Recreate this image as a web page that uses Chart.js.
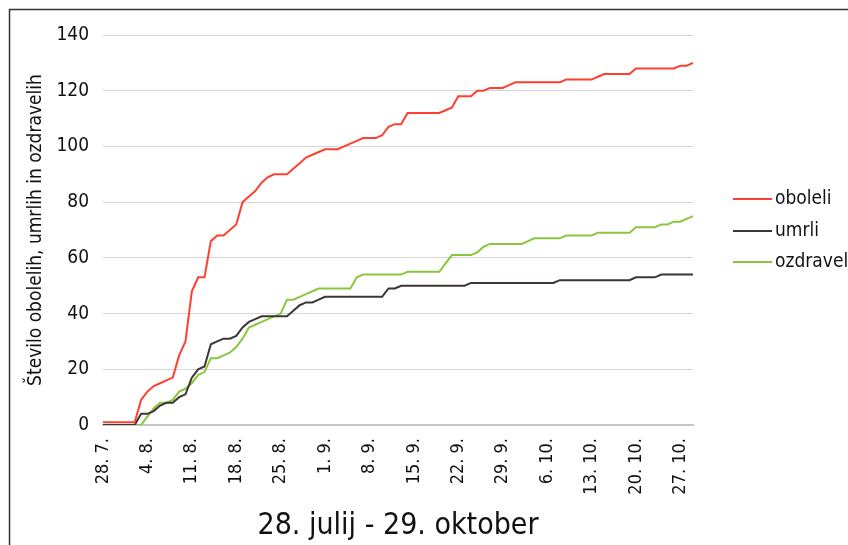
<!DOCTYPE html>
<html>
<head>
<meta charset="utf-8">
<script src="https://cdn.jsdelivr.net/npm/chart.js@4"></script>
<style>
  html, body { margin: 0; padding: 0; background: #fff; }
  #wrap { width: 848px; height: 545px; position: relative; }
</style>
</head>
<body>
<div id="wrap"><canvas id="chart" width="848" height="545"></canvas></div>
<script>
// ── Data: daily cumulative counts, 28. 7. – 29. 10. ──
const tickLabels = ['28. 7.', '4. 8.', '11. 8.', '18. 8.', '25. 8.', '1. 9.', '8. 9.',
  '15. 9.', '22. 9.', '29. 9.', '6. 10.', '13. 10.', '20. 10.', '27. 10.'];

const oboleli = [
  1, 1, 1, 1, 1, 1, 9, 12, 14, 15,
  16, 17, 25, 30, 48, 53, 53, 66, 68, 68,
  70, 72, 80, 82, 84, 87, 89, 90, 90, 90,
  92, 94, 96, 97, 98, 99, 99, 99, 100, 101,
  102, 103, 103, 103, 104, 107, 108, 108, 112, 112,
  112, 112, 112, 112, 113, 114, 118, 118, 118, 120,
  120, 121, 121, 121, 122, 123, 123, 123, 123, 123,
  123, 123, 123, 124, 124, 124, 124, 124, 125, 126,
  126, 126, 126, 126, 128, 128, 128, 128, 128, 128,
  128, 129, 129, 130
];

const umrli = [
  0, 0, 0, 0, 0, 0, 4, 4, 5, 7,
  8, 8, 10, 11, 17, 20, 21, 29, 30, 31,
  31, 32, 35, 37, 38, 39, 39, 39, 39, 39,
  41, 43, 44, 44, 45, 46, 46, 46, 46, 46,
  46, 46, 46, 46, 46, 49, 49, 50, 50, 50,
  50, 50, 50, 50, 50, 50, 50, 50, 51, 51,
  51, 51, 51, 51, 51, 51, 51, 51, 51, 51,
  51, 51, 52, 52, 52, 52, 52, 52, 52, 52,
  52, 52, 52, 52, 53, 53, 53, 53, 54, 54,
  54, 54, 54, 54
];

const ozdraveli = [
  0, 0, 0, 0, 0, 0, 0, 3, 6, 8,
  8, 9, 12, 13, 15, 18, 19, 24, 24, 25,
  26, 28, 31, 35, 36, 37, 38, 39, 40, 45,
  45, 46, 47, 48, 49, 49, 49, 49, 49, 49,
  53, 54, 54, 54, 54, 54, 54, 54, 55, 55,
  55, 55, 55, 55, 58, 61, 61, 61, 61, 62,
  64, 65, 65, 65, 65, 65, 65, 66, 67, 67,
  67, 67, 67, 68, 68, 68, 68, 68, 69, 69,
  69, 69, 69, 69, 71, 71, 71, 71, 72, 72,
  73, 73, 74, 75
];

const FONT = "'DejaVu Sans Condensed', 'DejaVu Sans', sans-serif";

const toPoints = arr => arr.map((v, i) => ({ x: i, y: v }));

function makeSet(label, data, color) {
  return {
    label: label,
    data: toPoints(data),
    borderColor: color,
    backgroundColor: color,
    borderWidth: 2,
    pointRadius: 0,
    tension: 0,
    fill: false
  };
}

// ── Frame + legend drawn by hand ──
const framePlugin = {
  id: 'frame',
  afterDraw(chart) {
    const ctx = chart.ctx;
    ctx.save();
    ctx.strokeStyle = '#333';
    ctx.lineWidth = 1.5;
    ctx.beginPath();
    ctx.moveTo(848, 9.5);
    ctx.lineTo(9.5, 9.5);
    ctx.lineTo(9.5, 545);
    ctx.stroke();

    // legend
    const rows = [199, 231, 262];
    chart.data.datasets.forEach((ds, i) => {
      const y = rows[i];
      ctx.strokeStyle = ds.borderColor;
      ctx.lineWidth = 2;
      ctx.beginPath();
      ctx.moveTo(733, y);
      ctx.lineTo(772, y);
      ctx.stroke();
      ctx.fillStyle = '#111';
      ctx.font = '19px ' + FONT;
      ctx.textBaseline = 'middle';
      ctx.textAlign = 'left';
      ctx.fillText(ds.label, 775, y);
    });
    ctx.restore();
  }
};

new Chart(document.getElementById('chart'), {
  type: 'line',
  data: {
    datasets: [
      makeSet('oboleli', oboleli, '#ff4030'),
      makeSet('umrli', umrli, '#3d3535'),
      makeSet('ozdraveli', ozdraveli, '#8cc63e')
    ]
  },
  options: {
    responsive: false,
    animation: false,
    layout: { padding: { top: 35, right: 155, bottom: 0, left: 0 } },
    plugins: { legend: { display: false }, tooltip: { enabled: false } },
    scales: {
      x: {
        type: 'linear',
        min: 0,
        max: 93,
        afterBuildTicks: scale => {
          scale.ticks = tickLabels.map((_, i) => ({ value: i * 7 }));
        },
        afterFit: scale => { scale.height = 120; },
        grid: { display: false, drawTicks: false },
        border: { display: true, color: '#c8c8c8', width: 2 },
        ticks: {
          autoSkip: false,
          minRotation: 90,
          maxRotation: 90,
          padding: 13,
          color: '#111',
          font: { family: FONT, size: 18 },
          callback: v => tickLabels[Math.round(v / 7)]
        },
        title: {
          display: true,
          text: '28. julij - 29. oktober',
          color: '#111',
          font: { family: FONT, size: 30 },
          padding: { top: 0, bottom: 1 }
        }
      },
      y: {
        min: 0,
        max: 140,
        afterFit: scale => { scale.width = 103; },
        grid: { color: '#d4d4d4', lineWidth: 1, drawTicks: false },
        border: { display: false },
        ticks: {
          stepSize: 20,
          padding: 14,
          color: '#111',
          font: { family: FONT, size: 19 }
        },
        title: {
          display: true,
          text: 'Število obolelih, umrlih in ozdravelih',
          color: '#111',
          font: { family: FONT, size: 19 },
          padding: { top: 25, bottom: 0 }
        }
      }
    }
  },
  plugins: [framePlugin]
});
</script>
</body>
</html>
